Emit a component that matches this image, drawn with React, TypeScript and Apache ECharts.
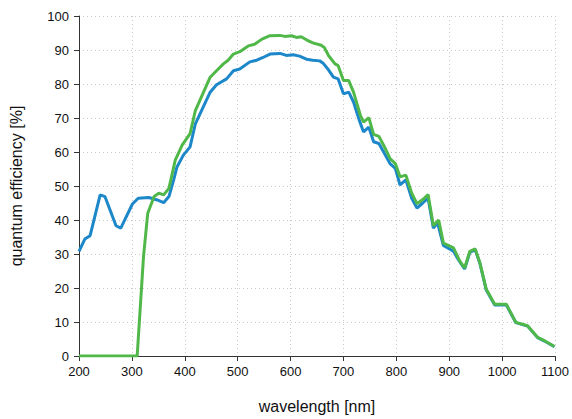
import React, { useEffect, useRef } from "react";
import * as echarts from "echarts";

const xTicks = [200, 300, 400, 500, 600, 700, 800, 900, 1000, 1100];
const yTicks = [0, 10, 20, 30, 40, 50, 60, 70, 80, 90, 100];

const blueWl = [200, 211, 221, 240, 249, 270, 279, 301, 312, 332, 348, 360, 370, 379, 385, 397, 410, 420, 448, 460, 479, 492, 504, 523, 536, 548, 561, 580, 592, 605, 617, 630, 642, 655, 661, 672, 681, 690, 700, 710, 719, 730, 738, 748, 757, 767, 776, 788, 798, 807, 818, 829, 839, 850, 860, 870, 878, 889, 908, 917, 929, 939, 949, 958, 970, 986, 1008, 1026, 1048, 1067, 1080, 1099];
const blueQe = [30.8, 34.4, 35.4, 47.4, 46.9, 38.3, 37.6, 44.7, 46.4, 46.6, 45.9, 45.1, 46.9, 51.8, 55.5, 59, 61.5, 68.3, 77.6, 79.8, 81.5, 83.9, 84.4, 86.5, 87.0, 87.8, 88.8, 89, 88.4, 88.6, 88.2, 87.3, 87, 86.8, 86.2, 84.1, 82, 81.5, 77.1, 77.6, 74.7, 69.3, 65.9, 67.3, 63, 62.5, 60, 56.6, 55.2, 50.3, 51.8, 46.4, 43.5, 45, 46.4, 37.6, 39.1, 32.5, 30.8, 28.4, 25.6, 30.5, 31.3, 27.2, 19.4, 15.0, 15.0, 9.8, 8.8, 5.4, 4.4, 2.7];

const greenWl = [200, 310, 322, 330, 342, 351, 360, 370, 382, 395, 410, 420, 448, 460, 473, 482, 492, 504, 520, 532, 546, 561, 580, 589, 602, 611, 620, 630, 642, 658, 664, 672, 684, 690, 700, 710, 719, 732, 738, 748, 757, 767, 776, 788, 798, 807, 818, 829, 839, 850, 860, 870, 880, 889, 908, 920, 929, 939, 949, 958, 970, 986, 1008, 1026, 1048, 1067, 1080, 1099];
const greenQe = [0, 0, 29.3, 42, 46.9, 47.9, 47.4, 49.3, 57.6, 62, 65.4, 72.2, 82, 83.9, 85.9, 87, 88.8, 89.5, 91.2, 91.7, 93.2, 94.2, 94.3, 94, 94.2, 93.7, 93.9, 93, 92.1, 91.4, 90.7, 88.3, 85.9, 85.4, 81, 81, 77.6, 70.8, 68.8, 70.1, 65.2, 64.6, 62, 58.1, 56.6, 52.7, 53.2, 47.9, 44.8, 46, 47.5, 38.3, 40, 33.2, 31.8, 27.9, 25.9, 30.8, 31.5, 27.4, 19.6, 15.2, 15.2, 9.9, 8.9, 5.5, 4.5, 2.8];

const pairs = (xs: number[], ys: number[]) => xs.map((x, i) => [x, ys[i]]);

export default function App() {
  const ref = useRef<HTMLDivElement>(null);
  useEffect(() => {
    if (!ref.current) return;
    const chart = echarts.init(ref.current, null, { renderer: "svg" });
    const font = "Liberation Sans, Arial, sans-serif";
    chart.setOption({
      animation: false,
      backgroundColor: "#ffffff",
      grid: { left: 78, top: 16, right: 15, bottom: 62, containLabel: false },
      xAxis: {
        type: "value",
        min: xTicks[0],
        max: xTicks[xTicks.length - 1],
        interval: 100,
        name: "wavelength [nm]",
        nameLocation: "middle",
        nameGap: 42,
        nameTextStyle: { fontFamily: font, fontSize: 16, color: "#111" },
        axisLine: { show: true, lineStyle: { color: "#333", width: 1 } },
        axisTick: { show: true, inside: false, length: 5, lineStyle: { color: "#333" } },
        axisLabel: { fontFamily: font, fontSize: 13, color: "#111", margin: 9, formatter: (v: number) => String(v) },
        splitLine: { show: true, lineStyle: { color: "#c8c8c8", type: [1, 3], width: 1 } },
      },
      yAxis: {
        type: "value",
        min: yTicks[0],
        max: yTicks[yTicks.length - 1],
        interval: 10,
        name: "quantum efficiency [%]",
        nameLocation: "middle",
        nameGap: 55,
        nameTextStyle: { fontFamily: font, fontSize: 16, color: "#111" },
        axisLine: { show: true, lineStyle: { color: "#333", width: 1 } },
        axisTick: { show: true, inside: false, length: 5, lineStyle: { color: "#333" } },
        axisLabel: { fontFamily: font, fontSize: 13, color: "#111", margin: 10, formatter: (v: number) => String(v) },
        splitLine: { show: true, lineStyle: { color: "#c8c8c8", type: [1, 3], width: 1 } },
      },
      series: [
        {
          type: "line",
          data: pairs(blueWl, blueQe),
          showSymbol: false,
          symbol: "none",
          lineStyle: { color: "#1c87c9", width: 3 },
          z: 2,
        },
        {
          type: "line",
          data: pairs(greenWl, greenQe),
          showSymbol: false,
          symbol: "none",
          lineStyle: { color: "#50b848", width: 3 },
          z: 3,
        },
      ],
    });
    return () => chart.dispose();
  }, []);
  return (
    <div
      ref={ref}
      style={{ position: "fixed", left: 0, top: 0, width: 572, height: 419 }}
    />
  );
}
